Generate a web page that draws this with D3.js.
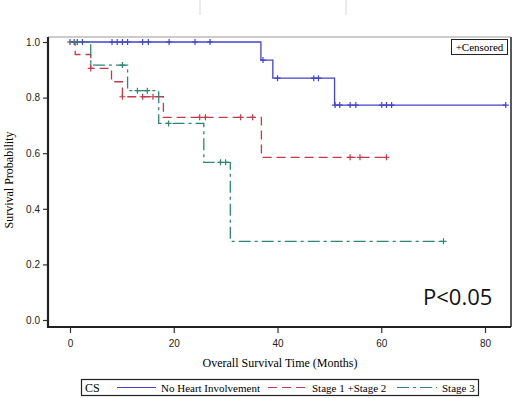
<!DOCTYPE html>
<html>
<head>
<meta charset="utf-8">
<script src="https://cdn.jsdelivr.net/npm/d3@7"></script>
<style>
  body { margin: 0; background: #fff; }
</style>
</head>
<body>
<div id="wrapper"></div>
<script>
// step curves: event times (months) and survival level after each time
const blueTimes = [0, 36.8, 39.1, 51.0, 84];
const blueSurv = [1, 0.935, 0.87, 0.773, 0.773];
const blueCensor = [0, 0.8, 1.4, 2.4, 8.1, 9.1, 10.1, 11.1, 14, 15.1, 19.1, 24.1, 27, 37.2, 40, 47, 47.9, 51.1, 52, 54, 55.1, 60.1, 61, 62, 84];

const redTimes = [0, 1.0, 4.0, 8.0, 10.1, 18.0, 36.9, 61];
const redSurv = [1, 0.955, 0.905, 0.857, 0.803, 0.729, 0.585, 0.585];
const redCensor = [4, 10.1, 14, 16, 25, 26.1, 32.9, 35.2, 54, 55.9, 61];

const greenTimes = [0, 4.0, 11.1, 17.1, 25.8, 30.9, 72];
const greenSurv = [1, 0.917, 0.825, 0.707, 0.567, 0.283, 0.283];
const greenCensor = [10.1, 13, 14.9, 19, 29, 30, 72];

const xTicks = [0, 20, 40, 60, 80];
const yTicks = [0, 0.2, 0.4, 0.6, 0.8, 1.0];
const seriesNames = ["No Heart Involvement", "Stage 1 +Stage 2", "Stage 3"];

const series = [
    {name: seriesNames[0], times: blueTimes, surv: blueSurv, censor: blueCensor, color: "#4343c9", dash: null},
    {name: seriesNames[1], times: redTimes, surv: redSurv, censor: redCensor, color: "#c23a4e", dash: "9,5"},
    {name: seriesNames[2], times: greenTimes, surv: greenSurv, censor: greenCensor, color: "#2d8572", dash: "12,4,3,4"}
];

const width = 520, height = 398;
const frame = {left: 48, right: 511, top: 37, bottom: 327};

const svg = d3.select("#wrapper").append("svg")
    .attr("width", width)
    .attr("height", height);

const xScaler = d3.scaleLinear().domain([0, 80]).range([70, 485]);
const yScaler = d3.scaleLinear().domain([0, 1]).range([320, 42]);

const serif = "'Liberation Serif', 'DejaVu Serif', serif";
const sans = "'Liberation Sans', Arial, sans-serif";

// faint marks at the very top of the image
svg.append("line").attr("x1", 200).attr("x2", 200).attr("y1", 0).attr("y2", 15)
    .attr("stroke", "#e4e4e4").attr("stroke-width", 1.5);
svg.append("line").attr("x1", 346).attr("x2", 346).attr("y1", 0).attr("y2", 15)
    .attr("stroke", "#e4e4e4").attr("stroke-width", 1.5);

// frame
svg.append("line").attr("x1", frame.left).attr("x2", frame.right)
    .attr("y1", frame.top).attr("y2", frame.top)
    .attr("stroke", "#999").attr("stroke-width", 1);
svg.append("line").attr("x1", frame.right).attr("x2", frame.right)
    .attr("y1", frame.top).attr("y2", frame.bottom)
    .attr("stroke", "#222").attr("stroke-width", 1.5);

// axes
const yAxis = d3.axisLeft(yScaler).tickValues(yTicks).tickFormat(d3.format(".1f"))
    .tickSize(5).tickSizeOuter(0);
const yG = svg.append("g").attr("transform", `translate(${frame.left},0)`).call(yAxis);
yG.select(".domain").remove();
yG.append("line").attr("x1", 0).attr("x2", 0).attr("y1", frame.top).attr("y2", frame.bottom + 1)
    .attr("stroke", "#222").attr("stroke-width", 2.2);

const xAxis = d3.axisBottom(xScaler).tickValues(xTicks).tickSize(6).tickSizeOuter(0);
const xG = svg.append("g").attr("transform", `translate(0,${frame.bottom})`).call(xAxis);
xG.select(".domain").remove();
xG.append("line").attr("x1", frame.left - 1).attr("x2", frame.right).attr("y1", 0).attr("y2", 0)
    .attr("stroke", "#222").attr("stroke-width", 2.2);

[yG, xG].forEach(g => {
    g.selectAll(".tick line").attr("stroke", "#333").attr("stroke-width", 1.2);
    g.selectAll(".tick text").style("font-family", sans).style("font-size", "10px").attr("fill", "#222");
});
xG.selectAll(".tick text").attr("dy", "1.1em");

// step lines
const lineGenerator = d3.line()
    .x(d => xScaler(d[0]))
    .y(d => yScaler(d[1]))
    .curve(d3.curveStepAfter);

const levelAt = (s, t) => {
    let v = s.surv[0];
    s.times.forEach((tt, i) => { if (t >= tt) v = s.surv[i]; });
    return v;
};

series.forEach(s => {
    const pts = s.times.map((t, i) => [t, s.surv[i]]);
    svg.append("path")
        .attr("d", lineGenerator(pts))
        .attr("fill", "none")
        .attr("stroke", s.color)
        .attr("stroke-width", 1.3)
        .attr("stroke-dasharray", s.dash);

    svg.append("g").selectAll("path")
        .data(s.censor)
        .join("path")
        .attr("d", t => {
            const cx = xScaler(t), cy = yScaler(levelAt(s, t));
            return `M${cx - 3},${cy}H${cx + 3}M${cx},${cy - 3}V${cy + 3}`;
        })
        .attr("stroke", s.color)
        .attr("stroke-width", 1.2);
});

// censored box
svg.append("rect").attr("x", 451.5).attr("y", 39.5).attr("width", 56).attr("height", 15)
    .attr("fill", "#fff").attr("stroke", "#222").attr("stroke-width", 1);
svg.append("text").attr("x", 479.5).attr("y", 51)
    .attr("text-anchor", "middle")
    .style("font-family", serif).style("font-size", "11px")
    .text("+Censored");

// p-value
svg.append("text").attr("x", 423).attr("y", 305)
    .style("font-family", "'Open Sans', 'Noto Sans', sans-serif").style("font-size", "22px")
    .attr("fill", "#111")
    .text("P<0.05");

// axis titles
svg.append("text")
    .attr("transform", "translate(13,180) rotate(-90)")
    .attr("text-anchor", "middle")
    .style("font-family", serif).style("font-size", "12px")
    .text("Survival Probability");

svg.append("text").attr("x", 280).attr("y", 367)
    .attr("text-anchor", "middle")
    .style("font-family", serif).style("font-size", "12px")
    .text("Overall Survival Time (Months)");

// legend
const legend = svg.append("g");
legend.append("rect").attr("x", 81.5).attr("y", 379.5).attr("width", 397).attr("height", 16)
    .attr("fill", "#fff").attr("stroke", "#222").attr("stroke-width", 1.2);
legend.append("text").attr("x", 85).attr("y", 391.5)
    .style("font-family", serif).style("font-size", "12px").text("CS");

const legendPos = [{x1: 117, x2: 156, tx: 161}, {x1: 268, x2: 306, tx: 312}, {x1: 397, x2: 437, tx: 442}];
series.forEach((s, i) => {
    const p = legendPos[i];
    legend.append("line").attr("x1", p.x1).attr("x2", p.x2).attr("y1", 387.5).attr("y2", 387.5)
        .attr("stroke", s.color).attr("stroke-width", 1.2)
        .attr("stroke-dasharray", s.dash);
    legend.append("text").attr("x", p.tx).attr("y", 391.5)
        .style("font-family", serif).style("font-size", "11px")
        .text(s.name);
});
</script>
</body>
</html>
